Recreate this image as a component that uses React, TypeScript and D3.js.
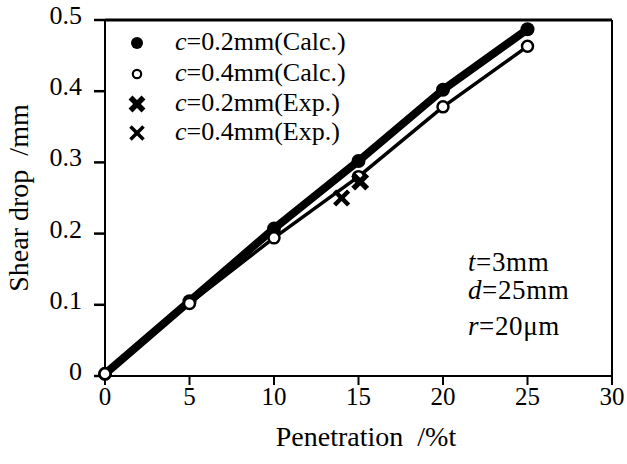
import React from "react";
import * as d3 from "d3";

const penetration = [0, 5, 10, 15, 20, 25];
const calcC02 = [0.003, 0.105, 0.207, 0.302, 0.402, 0.487];
const calcC04 = [0.003, 0.102, 0.194, 0.28, 0.378, 0.463];
const expC02 = [{ x: 15.1, y: 0.273 }];
const expC04 = [{ x: 14.0, y: 0.25 }];
const xTicks = [0, 5, 10, 15, 20, 25, 30];
const yTicks = [0, 0.1, 0.2, 0.3, 0.4, 0.5];
const legendItems = ["c=0.2mm(Calc.)", "c=0.4mm(Calc.)", "c=0.2mm(Exp.)", "c=0.4mm(Exp.)"];

function Cross({ cx, cy, s, w }: { cx: number; cy: number; s: number; w: number }) {
  return (
    <g stroke="#000" strokeWidth={w} strokeLinecap="butt">
      <line x1={cx - s} y1={cy - s} x2={cx + s} y2={cy + s} />
      <line x1={cx - s} y1={cy + s} x2={cx + s} y2={cy - s} />
    </g>
  );
}

export default function App() {
  const W = 627, H = 464;
  const x = d3.scaleLinear().domain([0, 30]).range([105, 612]);
  const y = d3.scaleLinear().domain([0, 0.5]).range([376, 20]);
  const line = d3.line<[number, number]>().x(d => x(d[0])).y(d => y(d[1]));
  const d02 = line(penetration.map((p, i) => [p, calcC02[i]] as [number, number]))!;
  const d04 = line(penetration.map((p, i) => [p, calcC04[i]] as [number, number]))!;
  const legendY = [43, 74, 104, 133];
  const ts = { fontFamily: "Liberation Serif" };
  const an = { fontFamily: "Liberation Serif", letterSpacing: "0.6px" };

  return (
    <svg width={W} height={H} style={{ position: "absolute", left: 0, top: 0 }}>
      <rect width={W} height={H} fill="#fff" />
      {/* frame */}
      <line x1={x(0)} y1={y(0.5)} x2={x(30)} y2={y(0.5)} stroke="#000" strokeWidth={3} />
      <line x1={x(30)} y1={y(0.5)} x2={x(30)} y2={y(0)} stroke="#000" strokeWidth={2} />
      <line x1={x(0)} y1={y(0.5)} x2={x(0)} y2={y(0)} stroke="#000" strokeWidth={2} />
      <line x1={x(0)} y1={y(0)} x2={x(30)} y2={y(0)} stroke="#000" strokeWidth={2} />
      {/* ticks */}
      {xTicks.map(t => (
        <g key={"x" + t}>
          <line x1={x(t)} x2={x(t)} y1={y(0)} y2={y(0) + 9} stroke="#000" strokeWidth={2} />
          <text x={x(t)} y={405} textAnchor="middle" fontSize={25} style={ts}>{t}</text>
        </g>
      ))}
      {yTicks.map(t => (
        <g key={"y" + t}>
          <line x1={x(0) - 11} x2={x(0)} y1={y(t)} y2={y(t)} stroke="#000" strokeWidth={2.5} />
          <text x={82} y={y(t) + 4} textAnchor="end" fontSize={26} style={ts}>{t === 0 ? "0" : t.toFixed(1)}</text>
        </g>
      ))}
      {/* axis labels */}
      <text x={366} y={446} textAnchor="middle" fontSize={28} style={ts} xmlSpace="preserve">Penetration  /%t</text>
      <text transform={`translate(28,198) rotate(-90)`} textAnchor="middle" fontSize={28} style={ts} xmlSpace="preserve">Shear drop  /mm</text>
      {/* lines */}
      <path d={d02} fill="none" stroke="#000" strokeWidth={8} strokeLinejoin="round" strokeLinecap="round" />
      <path d={d04} fill="none" stroke="#000" strokeWidth={3.5} strokeLinejoin="round" />
      {penetration.map((p, i) => (
        <circle key={"f" + i} cx={x(p)} cy={y(calcC02[i])} r={7} fill="#000" />
      ))}
      {penetration.map((p, i) => (
        <circle key={"o" + i} cx={x(p)} cy={y(calcC04[i])} r={5.5} fill="#fff" stroke="#000" strokeWidth={2.5} />
      ))}
      {expC04.map((d, i) => (
        <Cross key={"e4" + i} cx={x(d.x)} cy={y(d.y)} s={7} w={4.5} />
      ))}
      {expC02.map((d, i) => (
        <Cross key={"e2" + i} cx={x(d.x)} cy={y(d.y)} s={7} w={5.5} />
      ))}
      {/* legend */}
      <circle cx={137} cy={legendY[0]} r={6} fill="#000" />
      <circle cx={137} cy={legendY[1]} r={4.2} fill="#fff" stroke="#000" strokeWidth={2.2} />
      <Cross cx={137} cy={legendY[2]} s={6.5} w={5.5} />
      <Cross cx={137} cy={legendY[3]} s={6.5} w={3.5} />
      {legendItems.map((s, i) => (
        <text key={"l" + i} x={175} y={legendY[i] + 7} fontSize={26} style={ts}>
          <tspan fontStyle="italic">c</tspan>
          {s.slice(1)}
        </text>
      ))}
      {/* annotations */}
      <text x={468} y={271} fontSize={27} style={an}><tspan fontStyle="italic">t</tspan>=3mm</text>
      <text x={468} y={299} fontSize={27} style={an}><tspan fontStyle="italic">d</tspan>=25mm</text>
      <text x={468} y={335} fontSize={27} style={an}><tspan fontStyle="italic">r</tspan>=20μm</text>
    </svg>
  );
}
